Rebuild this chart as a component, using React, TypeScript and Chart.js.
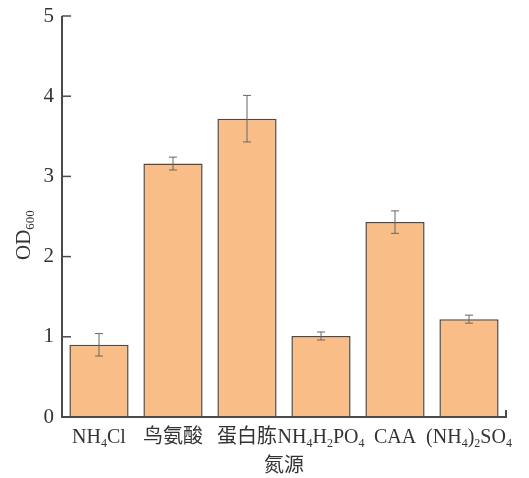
import React, { useEffect, useRef } from "react";
import { Chart, registerables } from "chart.js";

Chart.register(...registerables);

// label parts: [text, isSubscript]
const categoryLabels: [string, boolean][][] = [
  [["NH", false], ["4", true], ["Cl", false]],
  [["鸟氨酸", false]],
  [["蛋白胨", false]],
  [["NH", false], ["4", true], ["H", false], ["2", true], ["PO", false], ["4", true]],
  [["CAA", false]],
  [["(NH", false], ["4", true], [")", false], ["2", true], ["SO", false], ["4", true]],
];
const categories = ["NH4Cl", "鸟氨酸", "蛋白胨", "NH4H2PO4", "CAA", "(NH4)2SO4"];
const odValues = [0.9, 3.16, 3.72, 1.01, 2.43, 1.22];
const errValues = [0.14, 0.08, 0.29, 0.05, 0.14, 0.05];
const yTicks = [0, 1, 2, 3, 4, 5];
const xTitle = "氮源";
const yTitleMain = "OD";
const yTitleSub = "600";

const FONT = '"Liberation Serif", "Times New Roman", "Noto Sans CJK SC", serif';
const AXIS_COLOR = "#4a4a4a";

function drawParts(ctx: CanvasRenderingContext2D, parts: [string, boolean][], cx: number, y: number, size: number) {
  const subSize = 12;
  let total = 0;
  for (const [t, sub] of parts) {
    ctx.font = `${sub ? subSize : size}px ${FONT}`;
    total += ctx.measureText(t).width;
  }
  let x = cx - total / 2;
  ctx.textAlign = "left";
  ctx.textBaseline = "alphabetic";
  for (const [t, sub] of parts) {
    ctx.font = `${sub ? subSize : size}px ${FONT}`;
    ctx.fillText(t, x, sub ? y + 4 : y);
    x += ctx.measureText(t).width;
  }
}

const customPlugin = {
  id: "customAxes",
  afterDatasetsDraw(chart: any) {
    const ctx: CanvasRenderingContext2D = chart.ctx;
    const xs = chart.scales.x;
    const ys = chart.scales.y;
    const { left, right, top, bottom } = chart.chartArea;
    ctx.save();
    // error bars
    const meta = chart.getDatasetMeta(0);
    ctx.strokeStyle = "#666";
    ctx.lineWidth = 1;
    meta.data.forEach((bar: any, i: number) => {
      const x = bar.x;
      const yHi = ys.getPixelForValue(odValues[i] + errValues[i]);
      const yLo = ys.getPixelForValue(odValues[i] - errValues[i]);
      ctx.beginPath();
      ctx.moveTo(x, yHi);
      ctx.lineTo(x, yLo);
      ctx.moveTo(x - 4, yHi);
      ctx.lineTo(x + 4, yHi);
      ctx.moveTo(x - 4, yLo);
      ctx.lineTo(x + 4, yLo);
      ctx.stroke();
    });
    // axes
    ctx.strokeStyle = AXIS_COLOR;
    ctx.lineWidth = 2;
    ctx.beginPath();
    ctx.moveTo(left, top);
    ctx.lineTo(left, bottom);
    ctx.lineTo(right, bottom);
    ctx.lineTo(right, bottom - 7);
    ctx.stroke();
    ctx.lineWidth = 1.5;
    yTicks.forEach((v) => {
      const y = ys.getPixelForValue(v);
      ctx.beginPath();
      ctx.moveTo(left, y);
      ctx.lineTo(left + 9, y);
      ctx.stroke();
    });
    // x labels
    ctx.fillStyle = "#333";
    categoryLabels.forEach((parts, i) => {
      const x = xs.getPixelForValue(i);
      drawParts(ctx, parts, x, 443, 20);
    });
    // x title
    ctx.font = `20px ${FONT}`;
    ctx.textAlign = "center";
    ctx.textBaseline = "alphabetic";
    ctx.fillText(xTitle, (left + right) / 2, 472);
    // y title
    ctx.translate(30, 260);
    ctx.rotate(-Math.PI / 2);
    ctx.textAlign = "left";
    ctx.font = `21px ${FONT}`;
    ctx.fillText(yTitleMain, 0, 0);
    const w = ctx.measureText(yTitleMain).width;
    ctx.font = `13px ${FONT}`;
    ctx.fillText(yTitleSub, w, 4);
    ctx.restore();
  },
};

export default function App() {
  const ref = useRef<HTMLCanvasElement | null>(null);
  useEffect(() => {
    if (!ref.current) return;
    const chart = new Chart(ref.current, {
      type: "bar",
      data: {
        labels: categories,
        datasets: [
          {
            data: odValues,
            backgroundColor: "#F9BE88",
            borderColor: "#4a4a4a",
            borderWidth: 1.5,
            barPercentage: 0.8,
            categoryPercentage: 1,
          },
        ],
      },
      options: {
        responsive: false,
        animation: false,
        layout: { padding: { top: 16, right: 23, left: 0, bottom: 0 } },
        plugins: { legend: { display: false }, tooltip: { enabled: false } },
        scales: {
          x: {
            grid: { display: false },
            border: { display: false },
            ticks: { display: false },
            afterFit: (s: any) => {
              s.height = 61;
              s.paddingLeft = 0;
              s.paddingRight = 0;
            },
          },
          y: {
            min: 0,
            max: 5,
            grid: { display: false, drawTicks: false },
            border: { display: false },
            ticks: {
              stepSize: 1,
              padding: 8,
              color: "#333",
              font: { family: FONT, size: 21 },
            },
            afterFit: (s: any) => {
              s.width = 62;
              s.paddingTop = 0;
              s.paddingBottom = 0;
            },
          },
        },
      },
      plugins: [customPlugin],
    });
    return () => chart.destroy();
  }, []);
  return (
    <div style={{ position: "absolute", left: 0, top: 0, width: 529, height: 478, background: "#fff" }}>
      <canvas ref={ref} width={529} height={478} />
    </div>
  );
}
